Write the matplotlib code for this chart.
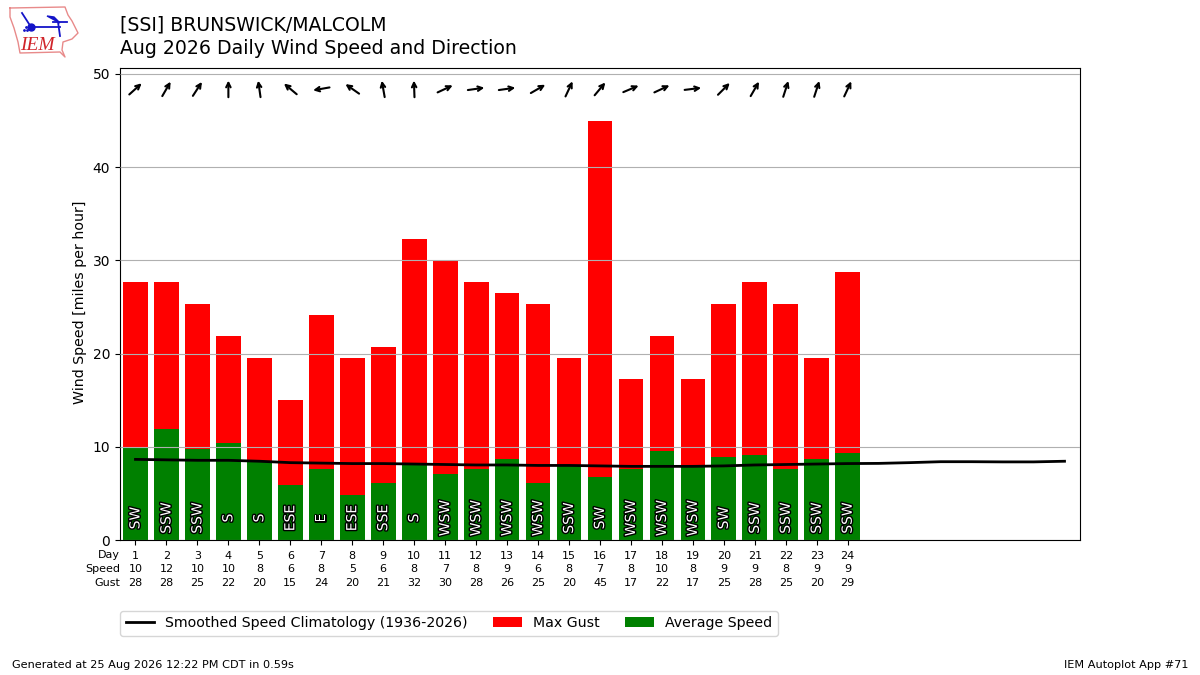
import numpy as np
import matplotlib
matplotlib.use("Agg")
import matplotlib.pyplot as plt
import matplotlib.patheffects as pe
from matplotlib.transforms import offset_copy

W = 1200
H = 675

days = list(range(1, 25))
clim_days = list(range(1, 32))
gust = [27.7, 27.7, 25.3, 21.9, 19.5, 15.0, 24.1, 19.5, 20.7, 32.3, 29.9, 27.7,
        26.5, 25.3, 19.5, 45.0, 17.3, 21.9, 17.3, 25.3, 27.7, 25.3, 19.5, 28.8]
speed = [10.0, 11.9, 9.8, 10.4, 8.4, 5.9, 7.6, 4.8, 6.1, 8.1, 7.1, 7.6,
         8.7, 6.1, 8.0, 6.8, 7.6, 9.5, 7.9, 8.9, 9.1, 7.6, 8.7, 9.3]
speed_lbl = [10, 12, 10, 10, 8, 6, 8, 5, 6, 8, 7, 8,
             9, 6, 8, 7, 8, 10, 8, 9, 9, 8, 9, 9]
gust_lbl = [28, 28, 25, 22, 20, 15, 24, 20, 21, 32, 30, 28,
            26, 25, 20, 45, 17, 22, 17, 25, 28, 25, 20, 29]
dir_names = ["SW", "SSW", "SSW", "S", "S", "ESE", "E", "ESE", "SSE", "S", "WSW", "WSW",
             "WSW", "WSW", "SSW", "SW", "WSW", "WSW", "WSW", "SW", "SSW", "SSW", "SSW", "SSW"]
# direction the wind blows from, degrees
dir_deg = [228, 210, 213, 180, 172, 130, 80, 125, 170, 178, 245, 262,
           262, 240, 205, 220, 247, 245, 263, 225, 210, 198, 198, 205]
clim = [8.65, 8.6, 8.55, 8.55, 8.45, 8.3, 8.25, 8.2, 8.2, 8.15, 8.1, 8.05, 8.05, 8.0, 8.0, 7.95,
        7.9, 7.9, 7.9, 7.95, 8.05, 8.1, 8.15, 8.2, 8.22, 8.3, 8.4, 8.4, 8.38, 8.38, 8.45]

# logo outline and glyph, in image pixels
logo_outline = [(10, 8), (65, 7), (68, 15), (72, 21), (78, 33), (72, 39), (63, 42),
                (62, 50), (65, 57), (60, 52), (20, 53), (18, 42), (14, 28), (10, 17), (10, 8)]
logo_blue = [[(31, 27), (60, 27)], [(22, 13), (31, 27)], [(58, 22), (60, 36)], [(53, 22), (67, 22)]]
logo_vane = [(47, 16), (54, 17), (60, 23)]


def add_logo(fig):
    ax = fig.add_axes([0, 0, 1, 1], zorder=5)
    ax.set_xlim(0, W)
    ax.set_ylim(H, 0)
    ax.axis("off")
    ax.patch.set_alpha(0)
    x, y = zip(*logo_outline)
    ax.plot(x, y, color="#e88a8a", lw=1)
    for seg in logo_blue:
        x, y = zip(*seg)
        ax.plot(x, y, color="#1414c8", lw=1.3)
    x, y = zip(*logo_vane)
    ax.fill(x, y, color="#1414c8")
    ax.plot([31], [27], "o", color="#1414c8", ms=5)
    ax.plot([24, 27, 26], [30, 30, 27], ".", color="#1414c8", ms=2)
    ax.text(37, 45, "IEM", color="#d0242a", ha="center", va="center", fontsize=14,
            family="Liberation Serif", style="italic")


def main():
    fig = plt.figure(figsize=(W / 100, H / 100), dpi=100)
    ax = fig.add_axes([120 / W, 1 - 540 / H, 960 / W, 472 / H])

    ax.bar(days, gust, width=0.8, color="r", label="Max Gust")
    ax.bar(days, speed, width=0.8, color="g", label="Average Speed")
    ax.plot(clim_days, clim, color="k", lw=2, label="Smoothed Speed Climatology (1936-2026)")

    for d, name in zip(days, dir_names):
        ax.text(d, 2.35, name, rotation=90, color="w", fontsize=10, ha="center", va="center",
                path_effects=[pe.withStroke(linewidth=2, foreground="k")], zorder=4)

    ax.set_xlim(0.5, 31.5)
    ax.set_ylim(0, 50.64)

    # arrows point where the wind is going, half length in points
    for d, deg in zip(days, dir_deg):
        u = -np.sin(np.radians(deg)) * 6
        v = -np.cos(np.radians(deg)) * 6
        tail = offset_copy(ax.transData, fig, x=-u, y=-v, units="points")
        head = offset_copy(ax.transData, fig, x=u, y=v, units="points")
        ax.annotate("", xy=(d, 48.4), xycoords=head, xytext=(d, 48.4), textcoords=tail,
                    arrowprops=dict(arrowstyle="->", lw=1.5, color="k", mutation_scale=8,
                                    shrinkA=0, shrinkB=0))

    ax.set_ylabel("Wind Speed [miles per hour]", fontsize=10.2, y=0.503)
    ax.set_axisbelow(False)
    ax.grid(axis="y")
    ax.set_xticks(days)
    ax.set_xticklabels(["%d\n%d\n%d" % t for t in zip(days, speed_lbl, gust_lbl)],
                       fontsize=8, linespacing=1.4)
    ax.tick_params(axis="x", pad=4.5)

    fig.text(120 / W, 1 - 550 / H, "Day\nSpeed\nGust", ha="right", va="top", fontsize=8,
             multialignment="right", linespacing=1.5)
    fig.text(120 / W, 1 - 25 / H, "[SSI] BRUNSWICK/MALCOLM", fontsize=13.6, va="center")
    fig.text(120 / W, 1 - 48 / H, "Aug 2026 Daily Wind Speed and Direction", fontsize=13.6, va="center")
    fig.text(12 / W, 1 - 665 / H, "Generated at 25 Aug 2026 12:22 PM CDT in 0.59s", fontsize=8.1, va="center")
    fig.text(1188 / W, 1 - 665 / H, "IEM Autoplot App #71", fontsize=8.1, va="center", ha="right")

    handles, labels = ax.get_legend_handles_labels()
    order = [labels.index(s) for s in ["Smoothed Speed Climatology (1936-2026)", "Max Gust", "Average Speed"]]
    fig.legend([handles[i] for i in order], [labels[i] for i in order], ncol=3, fontsize=10.2,
               loc="lower left", bbox_to_anchor=(120 / W, 1 - 636 / H), borderaxespad=0,
               borderpad=0.4, columnspacing=1.8)

    add_logo(fig)
    fig.savefig("out.png", dpi=100)


if __name__ == "__main__":
    main()
